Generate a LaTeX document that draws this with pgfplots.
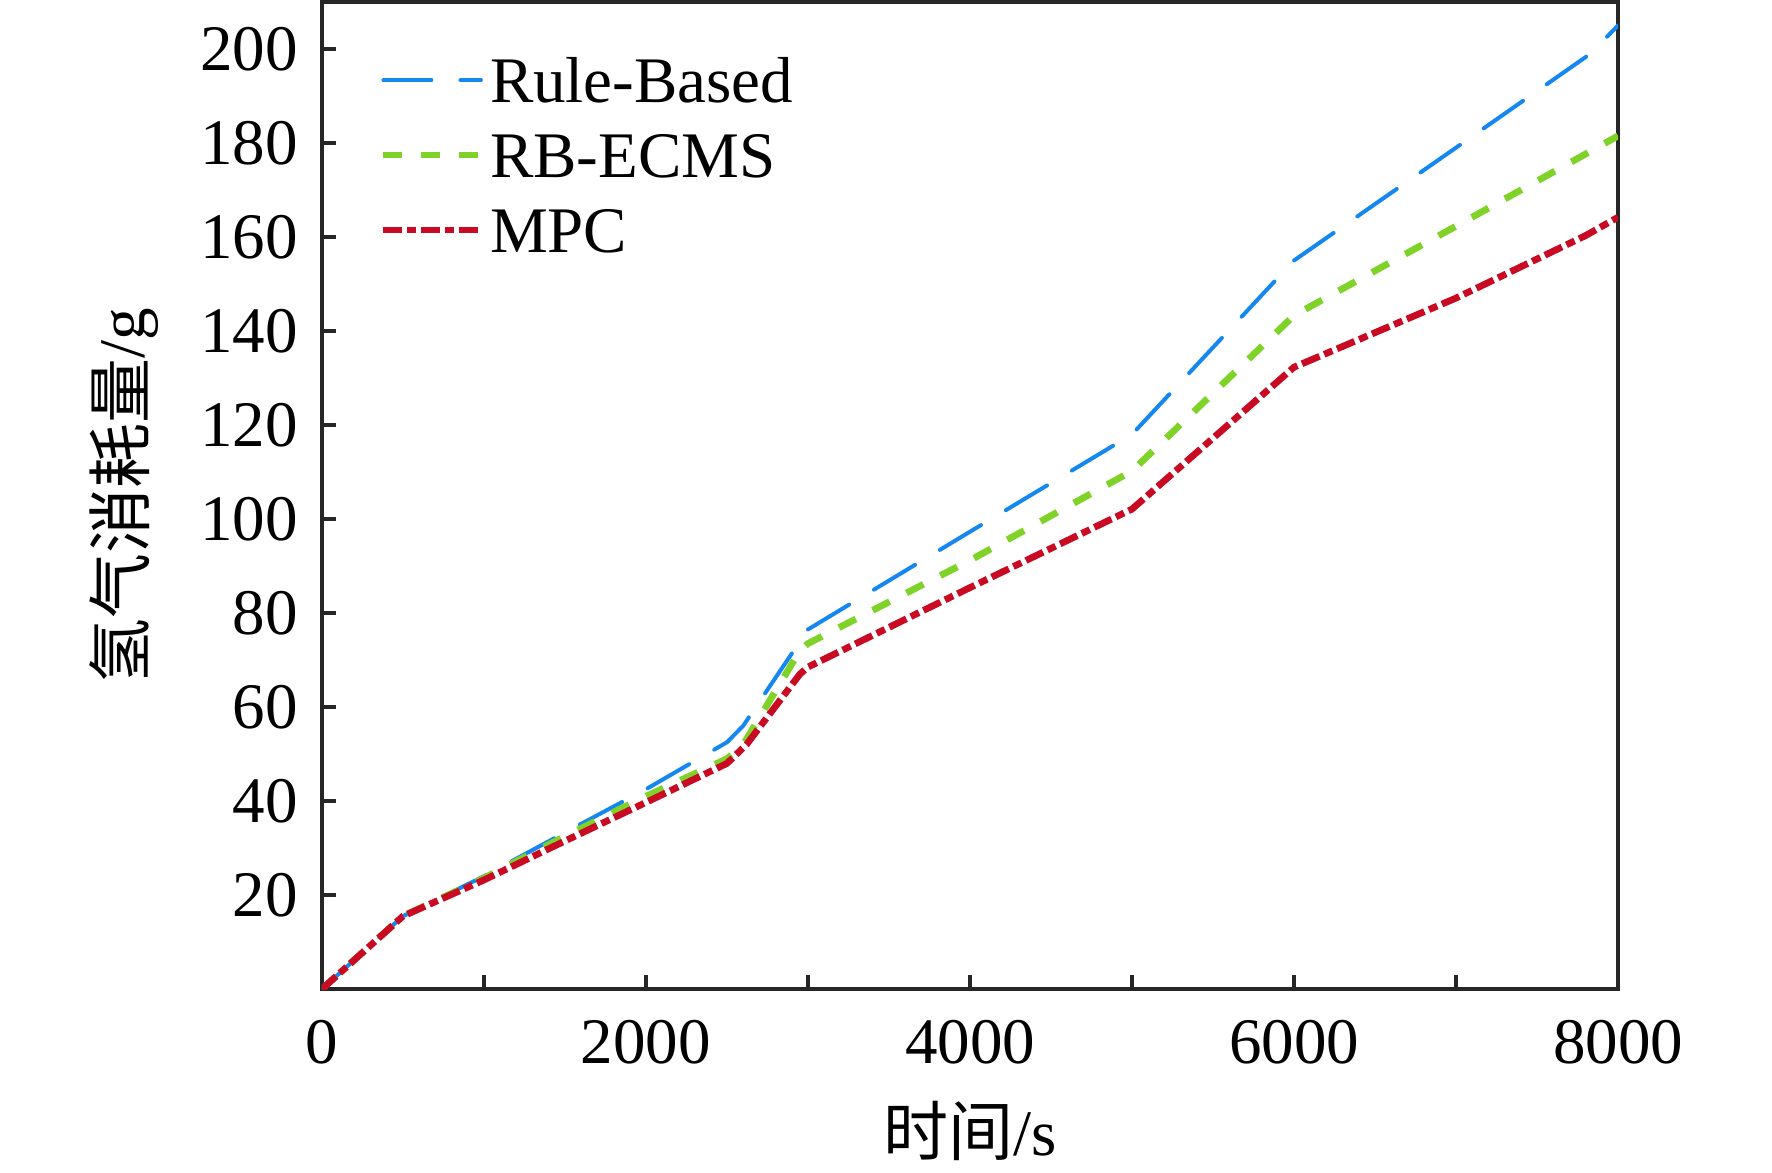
\documentclass[border=0pt]{standalone}
\usepackage{fontspec}
\setmainfont{Liberation Serif}
\newfontfamily\cjk{Noto Sans CJK SC}
\usepackage{pgfplots}
\pgfplotsset{compat=1.18}
\definecolor{cblue}{RGB}{20,135,240}
\definecolor{cgreen}{RGB}{126,210,40}
\definecolor{cred}{RGB}{200,10,35}
\definecolor{cframe}{RGB}{38,38,38}
\begin{document}
\begin{tikzpicture}
\begin{axis}[
  scale only axis,
  width=518.4pt, height=394.8pt,
  xmin=0, xmax=8000, ymin=0, ymax=210,
  xtick={0,1000,...,8000},
  xticklabels={0,,2000,,4000,,6000,,8000},
  ytick={20,40,...,200},
  scaled x ticks=false,
  /pgf/number format/assume math mode=true,
  /pgf/number format/set thousands separator={},
  tick align=inside, tick pos=left,
  major tick length=5.5pt,
  every tick/.style={line width=1.3pt, cframe},
  axis line style={line width=1.4pt, cframe},
  every tick label/.append style={font=\fontsize{26}{31}\selectfont, text=black},
  xticklabel style={yshift=-8.8pt},
  yticklabel style={xshift=-6.2pt},
  xlabel={{\cjk 时间}/s},
  ylabel={{\cjk 氢气消耗量}/g},
  label style={font=\fontsize{26}{31}\selectfont},
  xlabel style={at={(axis description cs:0.5,0)}, anchor=center, yshift=-56.8pt},
  ylabel style={at={(axis description cs:0,0.5)}, anchor=center, yshift=79.2pt},
  legend style={draw=none, fill=none, inner sep=0pt, outer sep=0pt,
    at={(0.0448,0.946)}, anchor=north west,
    font=\fontsize{26}{31}\selectfont,
    nodes={inner sep=0pt, text height=19pt, text depth=6pt},
    row sep=5pt},
  legend cell align=left,
  /tikz/every odd column/.append style={column sep=2.3pt},
  legend image code/.code={\draw[#1] (0pt,2.6pt) -- (39pt,2.6pt);},
]
\addplot[cblue, line width=1.6pt, line cap=round, dash pattern=on 19.2pt off 11.6pt] coordinates {
(0,0) (500,15.5) (1000,24) (1500,33.3) (2000,42.5) (2500,52.5) (2600,56) (3000,76.5)
(4000,97.3) (5000,118) (6000,155) (7000,179) (7830,199) (8000,205)};
\addlegendentry{Rule-Based}
\addplot[cgreen, line width=2.7pt, dash pattern=on 7.6pt off 7.6pt] coordinates {
(0,0) (500,15.5) (1000,23.6) (1500,32.5) (2000,41) (2500,49) (2600,52) (2950,72) (3000,73.5)
(4000,91.2) (5000,110.2) (6000,143.3) (7000,162.3) (8000,181.5)};
\addlegendentry{RB-ECMS}
\addplot[cred, line width=2.7pt, dash pattern=on 7.6pt off 2pt on 3.6pt off 2pt] coordinates {
(0,0) (500,15.5) (1000,23.2) (1500,31.5) (2000,39.7) (2500,48) (2620,52) (2950,67) (3000,68.5)
(4000,85.4) (5000,102.1) (6000,132.3) (7000,147) (7800,160.3) (8000,164.2)};
\addlegendentry{MPC}
\end{axis}
\path (current axis.south west) ++(-128.8pt,-73.2pt) rectangle ++(708.8pt,468.8pt);
\end{tikzpicture}
\end{document}
